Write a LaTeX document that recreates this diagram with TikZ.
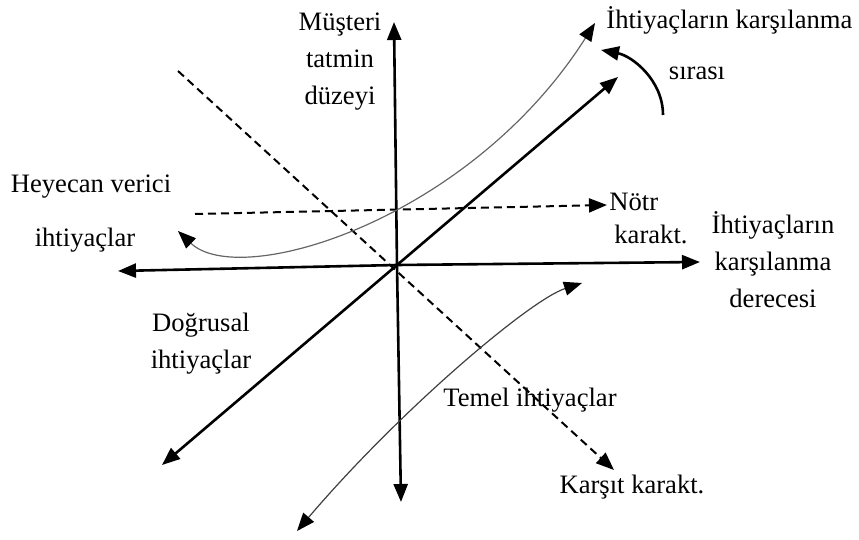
\documentclass[tikz,border=0pt]{standalone}
\usepackage{fontspec}
\setmainfont{Liberation Serif}
\usetikzlibrary{arrows.meta}

\begin{document}
\begin{tikzpicture}[x=0.5pt, y=-0.5pt,
  axis/.style={line width=1.3pt, -{Triangle[length=9pt, width=7pt]}},
  twoway/.style={line width=1.3pt, {Triangle[length=9pt, width=7pt]}-{Triangle[length=9pt, width=7pt]}},
  dasharrow/.style={line width=1pt, dashed, dash pattern=on 4pt off 2.5pt, -{Triangle[length=9pt, width=7pt]}},
  thincurve/.style={line width=0.6pt, {Triangle[length=9pt, width=7pt, color=black]}-{Triangle[length=9pt, width=7pt, color=black]}},
  label/.style={font=\fontsize{13.3}{18.5}\selectfont, align=center, inner sep=0pt}
]
\useasboundingbox (0,0) rectangle (859,540);

% Axes
\coordinate (o) at (397,265);
\coordinate (ytop) at (394,22);
\coordinate (ybot) at (401,502);
\coordinate (xleft) at (118,271);
\coordinate (xright) at (700,262);
\draw[axis] (o) -- (ytop);
\draw[axis] (o) -- (ybot);
\draw[axis] (o) -- (xleft);
\draw[axis] (o) -- (xright);

% Linear needs (diagonal)
\coordinate (dlow) at (162,465);
\coordinate (dhigh) at (618,77);
\draw[twoway] (dlow) -- (dhigh);

% Dashed lines
\coordinate (cstart) at (178,71);
\coordinate (cend) at (614,470);
\draw[dasharrow] (cstart) -- (cend);
\coordinate (nstart) at (195,214);
\coordinate (nend) at (607,205);
\draw[dasharrow] (nstart) -- (nend);

% Excitement needs curve
\coordinate (hlow) at (178,231);
\coordinate (hhigh) at (595,23);
\draw[thincurve, black!60] (hlow) .. controls (240,290) and (470,220) .. (hhigh);

% Basic needs curve
\coordinate (tlow) at (297,531);
\coordinate (thigh) at (582,283);
\draw[thincurve, black!75] (tlow) .. controls (400,410) and (530,300) .. (thigh);

% Order arrow
\coordinate (sstart) at (663,115);
\coordinate (send) at (601,50);
\draw[axis] (sstart) .. controls (663,80) and (632,56) .. (send);

% Labels
\node[label] (musteri) at (340,62) {Müşteri\\tatmin\\düzeyi};
\node[label, anchor=west] (ihtsira) at (606,20) {İhtiyaçların karşılanma};
\node[label] (sira) at (697,73) {sırası};
\node[label] (heyecan) at (91,187) {Heyecan verici};
\node[label] (heyecan2) at (85,240) {ihtiyaçlar};
\node[label, anchor=west] (notr) at (609,202) {Nötr};
\node[label] (notr2) at (651,234) {karakt.};
\node[label] (derece) at (773,260) {İhtiyaçların\\karşılanma\\derecesi};
\node[label] (dogrusal) at (201,344) {Doğrusal\\ihtiyaçlar};
\node[label] (temel) at (530,400) {Temel ihtiyaçlar};
\node[label] (karsit) at (632,487) {Karşıt karakt.};

\end{tikzpicture}
\end{document}
